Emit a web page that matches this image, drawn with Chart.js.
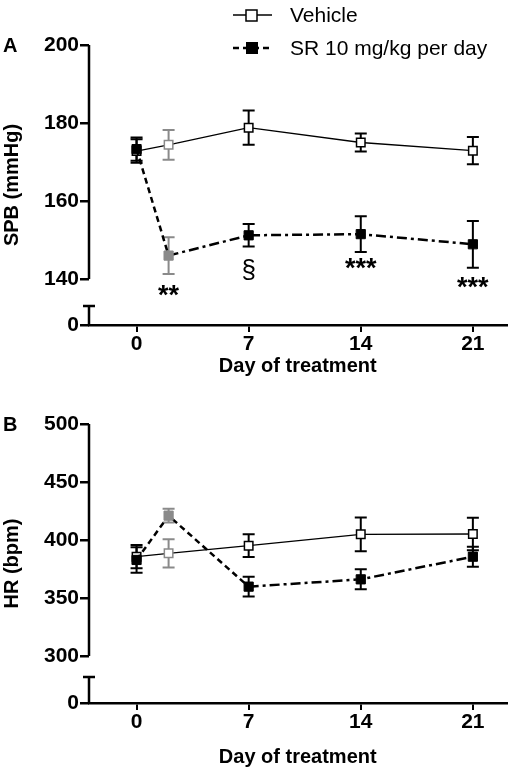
<!DOCTYPE html>
<html>
<head>
<meta charset="utf-8">
<script src="https://cdn.jsdelivr.net/npm/chart.js@4"></script>
<style>
  body { margin: 0; background: #fff; }
  .panel { position: absolute; left: 0; width: 514px; }
</style>
</head>
<body>
<div class="panel" style="top:0;height:380px"><canvas id="chartA"></canvas></div>
<div class="panel" style="top:380px;height:395px"><canvas id="chartB"></canvas></div>
<script>
// data
const days = [0, 2, 7, 14, 21];
const xTicks = [0, 7, 14, 21];

const sbpVehicle = [172.8, 174.4, 178.8, 175.0, 172.9];
const sbpVehicleErr = [3.0, 3.8, 4.4, 2.3, 3.5];
const sbpSR = [173.3, 146.0, 151.2, 151.5, 148.9];
const sbpSRErr = [3.0, 4.7, 2.9, 4.6, 6.0];
const sbpTicks = [140, 160, 180, 200];
const sbpMarks = [null, "**", "§", "***", "***"];
const sbpMarkY = [null, 135.5, 142, 142.5, 137.5];

const hrVehicle = [385.6, 388.5, 395.1, 404.9, 405.2];
const hrVehicleErr = [10, 12.1, 9.8, 14.6, 14.0];
const hrSR = [382.8, 421.0, 359.8, 366.1, 385.6];
const hrSRErr = [11, 6, 8.6, 8.6, 8.6];
const hrTicks = [300, 350, 400, 450, 500];

const GREY = "#8a8a8a";
const FONT = "Liberation Sans, Arial, sans-serif";

function pts(vals) {
  return vals.map((v, i) => ({ x: days[i], y: v }));
}
function colors(base) {
  return days.map((d, i) => (i === 1 ? GREY : base));
}

// error bars drawn under the markers
const errorBars = {
  id: "errorBars",
  beforeDatasetsDraw(chart, args, opts) {
    const { ctx, scales } = chart;
    ctx.save();
    ctx.lineWidth = 2;
    chart.data.datasets.forEach((ds) => {
      ds.data.forEach((p, i) => {
        const e = ds.err[i];
        const x = scales.x.getPixelForValue(p.x);
        const y1 = scales.y.getPixelForValue(p.y + e);
        const y2 = scales.y.getPixelForValue(p.y - e);
        ctx.strokeStyle = i === 1 ? GREY : "#000";
        ctx.beginPath();
        ctx.moveTo(x, y1); ctx.lineTo(x, y2);
        ctx.moveTo(x - 6, y1); ctx.lineTo(x + 6, y1);
        ctx.moveTo(x - 6, y2); ctx.lineTo(x + 6, y2);
        ctx.stroke();
      });
    });
    ctx.restore();
  },
};

// broken y axis line, panel letter, significance marks, legend
const brokenAxis = {
  id: "brokenAxis",
  afterDraw(chart, args, opts) {
    const { ctx, scales } = chart;
    const y = scales.y;
    const x = scales.x.left;
    ctx.save();
    ctx.strokeStyle = "#000";
    ctx.lineWidth = 2.5;
    ctx.beginPath();
    ctx.moveTo(x, y.getPixelForValue(opts.top));
    ctx.lineTo(x, y.getPixelForValue(opts.low));
    const bt = y.getPixelForValue(opts.breakTop);
    ctx.moveTo(x, bt);
    ctx.lineTo(x, y.bottom);
    ctx.moveTo(x - 6, bt);
    ctx.lineTo(x + 6, bt);
    ctx.stroke();

    ctx.fillStyle = "#000";
    ctx.font = "bold 20px " + FONT;
    ctx.textAlign = "left";
    ctx.textBaseline = "middle";
    ctx.fillText(opts.letter, 3, y.getPixelForValue(opts.top) + 1);

    if (opts.marks) {
      opts.marks.forEach((m, i) => {
        if (!m) return;
        ctx.font = (m === "§" ? "26px " : "bold 27px ") + FONT;
        ctx.textAlign = "center";
        ctx.fillText(m, scales.x.getPixelForValue(days[i]), y.getPixelForValue(opts.markY[i]));
      });
    }

    if (opts.legend) {
      ctx.lineWidth = 1.5;
      ctx.beginPath();
      ctx.moveTo(233, 15); ctx.lineTo(272, 15);
      ctx.stroke();
      ctx.fillStyle = "#fff";
      ctx.fillRect(246, 10, 11, 11);
      ctx.strokeRect(246, 10, 11, 11);
      ctx.lineWidth = 2.5;
      ctx.setLineDash([6, 4]);
      ctx.beginPath();
      ctx.moveTo(233, 48); ctx.lineTo(272, 48);
      ctx.stroke();
      ctx.setLineDash([]);
      ctx.fillStyle = "#000";
      ctx.fillRect(246, 42, 12, 12);
      ctx.font = "21px " + FONT;
      ctx.textAlign = "left";
      ctx.fillText("Vehicle", 290, 16);
      ctx.fillText("SR 10 mg/kg per day", 290, 49);
    }
    ctx.restore();
  },
};

function makeChart(id, cfg) {
  return new Chart(document.getElementById(id), {
    type: "line",
    data: {
      datasets: [
        {
          label: "SR 10 mg/kg per day",
          data: pts(cfg.sr),
          err: cfg.srErr,
          borderColor: "#000",
          borderWidth: 2.5,
          pointStyle: "rect",
          pointRadius: 6.5,
          pointBorderWidth: 1,
          pointBackgroundColor: colors("#000"),
          pointBorderColor: colors("#000"),
          segment: {
            borderDash: (c) => (c.p0DataIndex < cfg.dashUntil ? [6, 4] : [10, 4, 3, 4]),
          },
        },
        {
          label: "Vehicle",
          data: pts(cfg.veh),
          err: cfg.vehErr,
          borderColor: "#000",
          borderWidth: 1.3,
          pointStyle: "rect",
          pointRadius: 6,
          pointBorderWidth: 1.5,
          pointBackgroundColor: "#fff",
          pointBorderColor: colors("#000"),
        },
      ],
    },
    options: {
      responsive: true,
      maintainAspectRatio: false,
      animation: false,
      layout: { padding: { top: cfg.top, right: 4, left: 0, bottom: 0 } },
      plugins: {
        legend: { display: false },
        tooltip: { enabled: false },
        brokenAxis: cfg.axis,
      },
      scales: {
        x: {
          type: "linear",
          min: -2.97,
          max: 23.1,
          afterBuildTicks: (s) => { s.ticks = xTicks.map((v) => ({ value: v })); },
          afterFit: (s) => { s.height = cfg.xHeight; },
          border: { display: true, color: "#000", width: 2.5 },
          grid: { drawOnChartArea: false, color: "#000", lineWidth: 2, tickLength: 7 },
          ticks: { color: "#000", font: { family: FONT, size: 21, weight: "bold" }, padding: 0 },
          title: {
            display: true,
            text: "Day of treatment",
            color: "#000",
            font: { family: FONT, size: 20, weight: "bold" },
            padding: { top: 0, bottom: cfg.titlePad },
          },
        },
        y: {
          min: cfg.min,
          max: cfg.max,
          afterBuildTicks: (s) => { s.ticks = [cfg.min, ...cfg.ticks].map((v) => ({ value: v })); },
          afterFit: (s) => { s.width = 89; },
          border: { display: false },
          grid: { drawOnChartArea: false, color: "#000", lineWidth: 2.5, tickLength: 9 },
          ticks: {
            color: "#000",
            font: { family: FONT, size: 21, weight: "bold" },
            padding: 1,
            callback: (v) => (v === cfg.min ? "0" : v),
          },
          title: {
            display: true,
            text: cfg.yTitle,
            color: "#000",
            font: { family: FONT, size: 20, weight: "bold" },
            padding: { top: 0, bottom: 2 },
          },
        },
      },
    },
    plugins: [errorBars, brokenAxis],
  });
}

makeChart("chartA", {
  sr: sbpSR, srErr: sbpSRErr, veh: sbpVehicle, vehErr: sbpVehicleErr,
  min: 128.2, max: 200, ticks: sbpTicks, top: 45, xHeight: 55, titlePad: 2, dashUntil: 1,
  yTitle: "SPB (mmHg)",
  axis: { top: 200, low: 140, breakTop: 133.1, letter: "A", marks: sbpMarks, markY: sbpMarkY, legend: true },
});

makeChart("chartB", {
  sr: hrSR, srErr: hrSRErr, veh: hrVehicle, vehErr: hrVehicleErr,
  min: 259.5, max: 500, ticks: hrTicks, top: 44, xHeight: 72, titlePad: 6, dashUntil: 2,
  yTitle: "HR (bpm)",
  axis: { top: 500, low: 300, breakTop: 281.9, letter: "B" },
});
</script>
</body>
</html>
